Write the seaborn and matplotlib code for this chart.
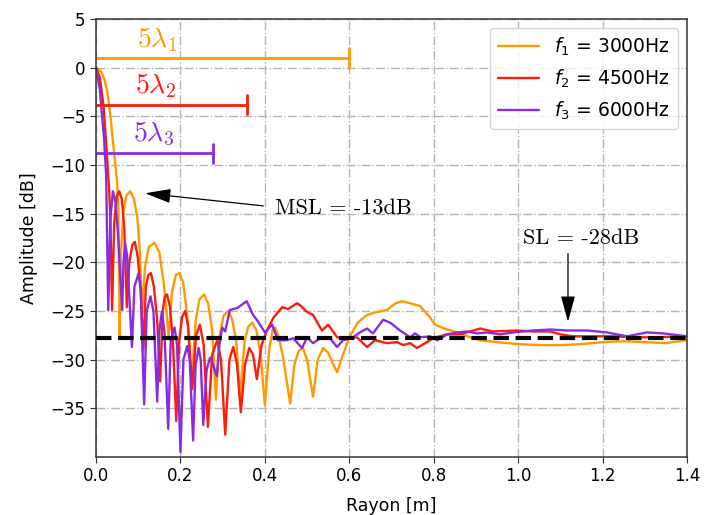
import matplotlib
matplotlib.use("Agg")
import matplotlib.pyplot as plt
import seaborn as sns

# radius [m] / amplitude [dB], one pair per frequency
r1 = [0, 0.012, 0.020, 0.026, 0.033, 0.038, 0.044, 0.050, 0.053, 0.056,
      0.059, 0.065, 0.072, 0.081, 0.090, 0.098, 0.104, 0.109,
      0.116, 0.125, 0.139, 0.150, 0.160, 0.172,
      0.180, 0.189, 0.197, 0.206, 0.215, 0.227,
      0.236, 0.245, 0.256, 0.266, 0.275, 0.284,
      0.293, 0.302, 0.313, 0.322, 0.332, 0.341,
      0.352, 0.361, 0.370, 0.380, 0.390, 0.400,
      0.410, 0.418, 0.424, 0.432, 0.442, 0.460,
      0.470, 0.480, 0.490, 0.500, 0.514,
      0.525, 0.538, 0.550, 0.560, 0.571,
      0.585, 0.600, 0.620, 0.642, 0.665, 0.689,
      0.710, 0.725, 0.744, 0.768, 0.790, 0.803,
      0.825, 0.855, 0.880, 0.910, 0.950, 1.000,
      1.050, 1.106, 1.150, 1.200, 1.250, 1.300, 1.350, 1.400]
a1 = [0, -0.4, -1.2, -2.3, -4.5, -6.7, -9.2, -11.8, -14.5, -27.6,
      -19, -14.8, -13.1, -12.7, -13.5, -15.5, -19, -25.2,
      -20.5, -18.4, -18.0, -19, -22, -27.6,
      -23, -21.3, -21.1, -22, -25, -32.3,
      -26, -23.8, -23.3, -24.3, -27, -34.1,
      -27.5, -25.5, -25.0, -25.8, -28, -33.8,
      -28, -26.6, -26.2, -27, -29.5, -34.7,
      -29, -27, -26.7, -27.5, -29.5, -34.5,
      -30.5, -29.1, -28.8, -30, -33.8,
      -30, -28.8, -29.3, -30.3, -31.3,
      -29.5, -27.7, -26.2, -25.4, -25.1, -24.9,
      -24.2, -24.0, -24.2, -24.5, -25.6, -26.4,
      -26.8, -27.2, -27.6, -28.0, -28.2, -28.4,
      -28.5, -28.5, -28.4, -28.2, -28.1, -28.2, -28.3, -28.0]

r2 = [0, 0.009, 0.018, 0.026, 0.031, 0.034, 0.038,
      0.043, 0.049, 0.055, 0.061, 0.067, 0.073,
      0.079, 0.086, 0.092, 0.099, 0.106, 0.112,
      0.118, 0.124, 0.130, 0.137, 0.145, 0.152,
      0.158, 0.163, 0.168, 0.175, 0.182, 0.190,
      0.197, 0.204, 0.211, 0.218, 0.228,
      0.237, 0.246, 0.255, 0.265,
      0.275, 0.287, 0.296, 0.306,
      0.316, 0.325, 0.334, 0.343,
      0.353, 0.363, 0.372, 0.381,
      0.392, 0.405, 0.420, 0.441, 0.455, 0.476,
      0.483, 0.500, 0.514, 0.535, 0.550, 0.571,
      0.595, 0.618, 0.642, 0.661, 0.689, 0.713,
      0.728, 0.744, 0.760, 0.784, 0.798, 0.830,
      0.862, 0.886, 0.910, 0.940, 0.997, 1.035,
      1.076, 1.100, 1.130, 1.177, 1.225, 1.272,
      1.329, 1.400]
a2 = [0, -1.0, -4.0, -9.1, -12.5, -15.5, -24.9,
      -16, -13.2, -12.7, -13.5, -16.5, -24.6,
      -20, -18.2, -17.9, -19.5, -23, -29,
      -22.5, -21.3, -21.1, -22.5, -26, -32.2,
      -25, -23.5, -23.3, -24.5, -28, -36.3,
      -28, -25.6, -25.0, -26.5, -33,
      -27.5, -26.4, -28.5, -36.9,
      -29.5, -28.0, -30, -37.7,
      -30, -28.7, -30.5, -35.4,
      -30.5, -28.8, -29.5, -32,
      -28.5, -27, -25.7, -24.6, -24.8, -24.2,
      -24.4, -25.1, -25.4, -27, -26.4, -27.7,
      -27.8, -27.7, -28.7, -28, -28.3, -28.2,
      -28.5, -28.3, -28.8, -28.2, -27.8, -27.4,
      -27.4, -27.1, -26.8, -27.1, -27, -27.1,
      -27.1, -27.4, -27.6, -27.6, -27.6, -27.7,
      -27.7, -27.6]

r3 = [0, 0.009, 0.019, 0.024, 0.029,
      0.034, 0.040, 0.046, 0.052, 0.062,
      0.065, 0.069, 0.074, 0.085,
      0.091, 0.101, 0.106, 0.114,
      0.120, 0.129, 0.136, 0.145,
      0.150, 0.156, 0.162, 0.171,
      0.177, 0.186, 0.192, 0.200,
      0.207, 0.216, 0.222, 0.230,
      0.236, 0.243, 0.248, 0.254,
      0.262, 0.270, 0.277, 0.286,
      0.292, 0.299, 0.306, 0.317, 0.334, 0.357,
      0.372, 0.384, 0.400, 0.417, 0.431, 0.452,
      0.467, 0.488, 0.500, 0.514, 0.535, 0.554,
      0.571, 0.585, 0.609, 0.625, 0.642, 0.656,
      0.680, 0.697, 0.720, 0.744, 0.756, 0.768,
      0.791, 0.808, 0.832, 0.855, 0.879, 0.903,
      0.926, 0.957, 0.988, 1.035, 1.076, 1.116,
      1.163, 1.210, 1.258, 1.305, 1.343, 1.400]
a3 = [0, -2.2, -7.3, -11, -24.9,
      -15.5, -12.7, -13.8, -17, -24.9,
      -20, -18, -19.5, -28.7,
      -22.5, -21.1, -23, -34.6,
      -25, -23.5, -25, -34.3,
      -27, -25.1, -27, -37.1,
      -28, -26.7, -28.5, -39.5,
      -30, -28.6, -30, -38.3,
      -30.5, -28.8, -30, -36.7,
      -31, -29.8, -30.5, -31.7,
      -28.5, -26.7, -27.1, -24.9, -24.7, -24.0,
      -25.4, -26.1, -27.2, -26.4, -28, -28,
      -27.8, -28.8, -27.7, -28.3, -27.7, -27.8,
      -28.7, -28, -27.7, -27.2, -26.8, -27.3,
      -25.9, -26.2, -27.0, -27.7, -27.3, -27.7,
      -27.6, -28, -27.4, -27.2, -27.1, -27.3,
      -27.2, -27.4, -27.2, -27.0, -26.9, -27.0,
      -27.0, -27.2, -27.6, -27.2, -27.3, -27.6]

labels = ['$f_1$ = 3000Hz', '$f_2$ = 4500Hz', '$f_3$ = 6000Hz']
colors = ['#ff9900', '#ff1a0a', '#8a2be2']

# 5 lambda markers: end of bar, level of bar, left of label, label baseline
bar_ends = [0.6, 0.357, 0.276]
bar_levels = [1.0, -3.8, -8.8]
bar_text_x = [0.096, 0.093, 0.088]
bar_text_y = [2.1, -2.6, -7.55]
bar_texts = [r'$5\lambda_1$', r'$5\lambda_2$', r'$5\lambda_3$']

sl_level = -27.8
msl_tip = (0.116, -12.9)
msl_tail = (0.396, -14.2)
msl_text = (0.424, -15.0)
sl_tip = (1.118, -26.1)
sl_tail = (1.118, -19.1)
sl_text = (1.012, -18.1)

sns.set_style('ticks')
plt.rcParams['font.family'] = ['DejaVu Sans']
plt.rcParams['text.color'] = 'black'
plt.rcParams['axes.labelcolor'] = 'black'

fig, ax = plt.subplots(figsize=(7.04, 5.15), dpi=100)
fig.subplots_adjust(left=0.1364, right=0.9759, top=0.9631, bottom=0.1126)

for r, a, c, lab in zip([r1, r2, r3], [a1, a2, a3], colors, labels):
    sns.lineplot(x=r, y=a, color=c, lw=1.7, label=lab, ax=ax)

ax.axhline(sl_level, color='k', ls='--', lw=3, zorder=5)

for end, lev, tx, ty, txt, c in zip(bar_ends, bar_levels, bar_text_x,
                                    bar_text_y, bar_texts, colors):
    ax.plot([0, end], [lev, lev], color=c, lw=2)
    ax.plot([end, end], [lev - 1, lev + 1], color=c, lw=2)
    ax.text(tx, ty, txt, color=c, fontsize=20, math_fontfamily='cm',
            va='baseline', ha='left')

arrow = dict(arrowstyle='-|>,head_length=0.8,head_width=0.22', color='k',
             lw=0.9, mutation_scale=20, shrinkA=0, shrinkB=0)
ax.annotate('', xy=msl_tip, xytext=msl_tail, arrowprops=arrow)
ax.annotate('', xy=sl_tip, xytext=sl_tail, arrowprops=arrow)
ax.text(*msl_text, 'MSL = -13dB', family='cmr10', fontsize=16, va='baseline')
ax.text(*sl_text, 'SL = -28dB', family='cmr10', fontsize=16, va='baseline')

ax.set_xlim(0, 1.4)
ax.set_ylim(-40, 5)
ax.set_xticks([0, 0.2, 0.4, 0.6, 0.8, 1.0, 1.2, 1.4])
ax.set_yticks([5, 0, -5, -10, -15, -20, -25, -30, -35])
ax.tick_params(labelsize=12, length=4, color='#333333', labelcolor='black')
ax.set_xlabel('Rayon [m]', fontsize=12.5, labelpad=8)
ax.set_ylabel('Amplitude [dB]', fontsize=12.5, labelpad=9)
ax.grid(True, ls='-.', color='#b5b5b5', lw=1)
ax.set_axisbelow(True)
for s in ax.spines.values():
    s.set_color('#333333')
    s.set_linewidth(1.1)

ax.legend(loc='upper right', fontsize=13.5, handlelength=2.2, edgecolor='#cccccc')

plt.savefig('out.png', dpi=100)
